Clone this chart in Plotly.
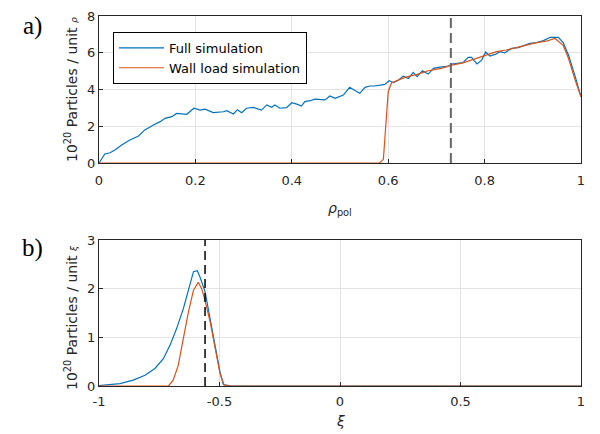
import plotly.graph_objects as go

# ---- data: panel a) ----
rho_full = [0.0, 0.012, 0.023, 0.033, 0.047, 0.064, 0.082, 0.095, 0.113, 0.127, 0.137, 0.151, 0.161, 0.182,
            0.197, 0.21, 0.22, 0.237, 0.258, 0.265, 0.279, 0.287, 0.296, 0.306, 0.32, 0.337, 0.348, 0.358,
            0.365, 0.375, 0.389, 0.4, 0.412, 0.42, 0.427, 0.438, 0.448, 0.458, 0.469, 0.479, 0.49, 0.507,
            0.52, 0.531, 0.541, 0.552, 0.562, 0.572, 0.583, 0.593, 0.602, 0.611, 0.621, 0.631, 0.642, 0.652,
            0.66, 0.671, 0.683, 0.694, 0.704, 0.714, 0.725, 0.732, 0.745, 0.755, 0.766, 0.773, 0.784, 0.794,
            0.802, 0.811, 0.822, 0.832, 0.842, 0.856, 0.87, 0.88, 0.894, 0.908, 0.922, 0.936, 0.953, 0.963,
            0.974, 0.988, 1.0]
val_full = [0.0, 0.49, 0.56, 0.71, 0.98, 1.25, 1.47, 1.8, 2.07, 2.25, 2.43, 2.52, 2.7, 2.65,
            2.98, 2.88, 2.93, 2.74, 2.79, 2.85, 2.67, 2.9, 2.74, 2.98, 3.03, 2.88, 3.16, 3.03,
            3.16, 2.98, 3.01, 3.28, 3.19, 3.1, 3.34, 3.39, 3.48, 3.46, 3.43, 3.65, 3.52, 3.7,
            4.12, 3.94, 3.79, 4.12, 4.19, 4.19, 4.23, 4.28, 4.48, 4.37, 4.5, 4.73, 4.6, 4.93,
            4.7, 5.02, 4.84, 5.15, 5.2, 5.24, 5.28, 5.39, 5.42, 5.46, 5.75, 5.75, 5.39, 5.6,
            6.04, 5.82, 5.91, 6.06, 6.0, 6.24, 6.28, 6.37, 6.51, 6.55, 6.66, 6.84, 6.84, 6.55,
            5.88, 4.7, 3.6]

rho_wall = [0.0, 0.582, 0.59, 0.6, 0.607, 0.635, 0.66, 0.683, 0.71, 0.732, 0.755, 0.777, 0.8, 0.825,
            0.845, 0.866, 0.885, 0.908, 0.93, 0.946, 0.963, 0.974, 0.988, 1.0]
val_wall = [0.0, 0.0, 0.2, 3.88, 4.37, 4.66, 4.82, 5.02, 5.15, 5.33, 5.45, 5.64, 5.82, 6.06,
            6.15, 6.29, 6.4, 6.55, 6.65, 6.78, 6.4, 5.7, 4.5, 3.6]

rho_mark = 0.73

# ---- data: panel b) ----
xi_full = [-1.0, -0.913, -0.858, -0.809, -0.768, -0.733, -0.705, -0.678, -0.65, -0.622, -0.608, -0.592,
           -0.581, -0.56, -0.539, -0.519, -0.498, -0.484, -0.45, 1.0]
vxi_full = [0.01, 0.05, 0.12, 0.22, 0.36, 0.56, 0.84, 1.18, 1.59, 2.07, 2.35, 2.37,
            2.24, 1.94, 1.39, 0.84, 0.29, 0.03, 0.0, 0.0]

xi_wall = [-1.0, -0.712, -0.692, -0.671, -0.65, -0.629, -0.608, -0.588, -0.574, -0.56, -0.539, -0.519,
           -0.498, -0.481, -0.46, 1.0]
vxi_wall = [0.0, 0.0, 0.12, 0.43, 0.98, 1.52, 1.97, 2.13, 2.0, 1.76, 1.32, 0.77,
            0.26, 0.02, 0.0, 0.0]

xi_mark = -0.56

xticks_a = [0, 0.2, 0.4, 0.6, 0.8, 1]
xticklabels_a = ["0", "0.2", "0.4", "0.6", "0.8", "1"]
yticks_a = [0, 2, 4, 6, 8]
xticks_b = [-1, -0.5, 0, 0.5, 1]
xticklabels_b = ["-1", "-0.5", "0", "0.5", "1"]
yticks_b = [0, 1, 2, 3]

BLUE = "#0072BD"
ORANGE = "#D95319"
AX = "#262626"
GRID = "#E3E3E3"

fig = go.Figure()
fig.add_trace(go.Scatter(x=rho_full, y=val_full, mode="lines", name="Full simulation",
                         line=dict(color=BLUE, width=1.2), xaxis="x", yaxis="y"))
fig.add_trace(go.Scatter(x=rho_wall, y=val_wall, mode="lines", name="Wall load simulation",
                         line=dict(color=ORANGE, width=1.2), xaxis="x", yaxis="y"))
fig.add_trace(go.Scatter(x=[rho_mark, rho_mark], y=[0, 8], mode="lines", showlegend=False,
                         line=dict(color="#666666", width=2, dash="10px,5px"), xaxis="x", yaxis="y"))
fig.add_trace(go.Scatter(x=xi_full, y=vxi_full, mode="lines", showlegend=False,
                         line=dict(color=BLUE, width=1.2), xaxis="x2", yaxis="y2"))
fig.add_trace(go.Scatter(x=xi_wall, y=vxi_wall, mode="lines", showlegend=False,
                         line=dict(color=ORANGE, width=1.2), xaxis="x2", yaxis="y2"))
fig.add_trace(go.Scatter(x=[xi_mark, xi_mark], y=[0, 3], mode="lines", showlegend=False,
                         line=dict(color="#000000", width=1.5, dash="9px,5px"), xaxis="x2", yaxis="y2"))

axis_common = dict(showline=True, linecolor=AX, linewidth=1, mirror=True, ticks="inside",
                   ticklen=4, tickcolor=AX, showgrid=True, gridcolor=GRID, gridwidth=1,
                   zeroline=False, automargin=False,
                   tickfont=dict(family="DejaVu Sans", size=13, color=AX))

# the page body adds an 8 px offset; figure is shrunk/shifted to compensate
fig.update_layout(
    width=592, height=426,
    margin=dict(l=91, r=19, t=8, b=48, autoexpand=False),
    paper_bgcolor="white", plot_bgcolor="white",
    font=dict(family="DejaVu Sans", color=AX),
    xaxis=dict(domain=[0, 1], range=[0, 1], tickvals=xticks_a, ticktext=xticklabels_a, anchor="y",
               ticklabelstandoff=5, **axis_common),
    yaxis=dict(domain=[0.6027, 1], range=[0, 8], tickvals=yticks_a, anchor="x",
               **axis_common),
    xaxis2=dict(domain=[0, 1], range=[-1, 1], tickvals=xticks_b, ticktext=xticklabels_b, anchor="y2",
                ticklabelstandoff=3, **axis_common),
    yaxis2=dict(domain=[0, 0.3946], range=[0, 3], tickvals=yticks_b, anchor="x2",
                **axis_common),
    legend=dict(x=0.029, y=0.957, xanchor="left", yanchor="top", xref="paper", yref="paper",
                bgcolor="white", bordercolor="#000000", borderwidth=1,
                font=dict(family="DejaVu Sans", size=13, color="#000000"),
                tracegroupgap=0, itemwidth=45),
    showlegend=True,
)

# plot area on screen: x 99..581 (482 px), y 16..386 (370 px)
def px(xp):
    return (xp - 99) / 482.0

def py(yp):
    return (386 - yp) / 370.0

ann_font = dict(family="DejaVu Sans", size=14, color=AX)
common = dict(xref="paper", yref="paper", xanchor="center", yanchor="middle", showarrow=False)
fig.add_annotation(text="10<sup>20</sup> Particles / unit <span style='font-size:9px'><i>ρ</i></span>",
                   x=px(71), y=py(90), textangle=-90, font=ann_font, **common)
fig.add_annotation(text="10<sup>20</sup> Particles / unit <span style='font-size:9px'><i>ξ</i></span>",
                   x=px(71), y=py(318), textangle=-90, font=ann_font, **common)
fig.add_annotation(text="<i>ρ</i><sub>pol</sub>", x=px(340), y=py(209), font=ann_font, **common)
fig.add_annotation(text="<i>ξ</i>", x=px(340), y=py(421), font=ann_font, **common)

lab_font = dict(family="Liberation Serif", size=25, color="#000000")
fig.add_annotation(text="a)", x=px(32), y=py(26), font=lab_font, **common)
fig.add_annotation(text="b)", x=px(32), y=py(248), font=lab_font, **common)

fig.write_html("out.html")
